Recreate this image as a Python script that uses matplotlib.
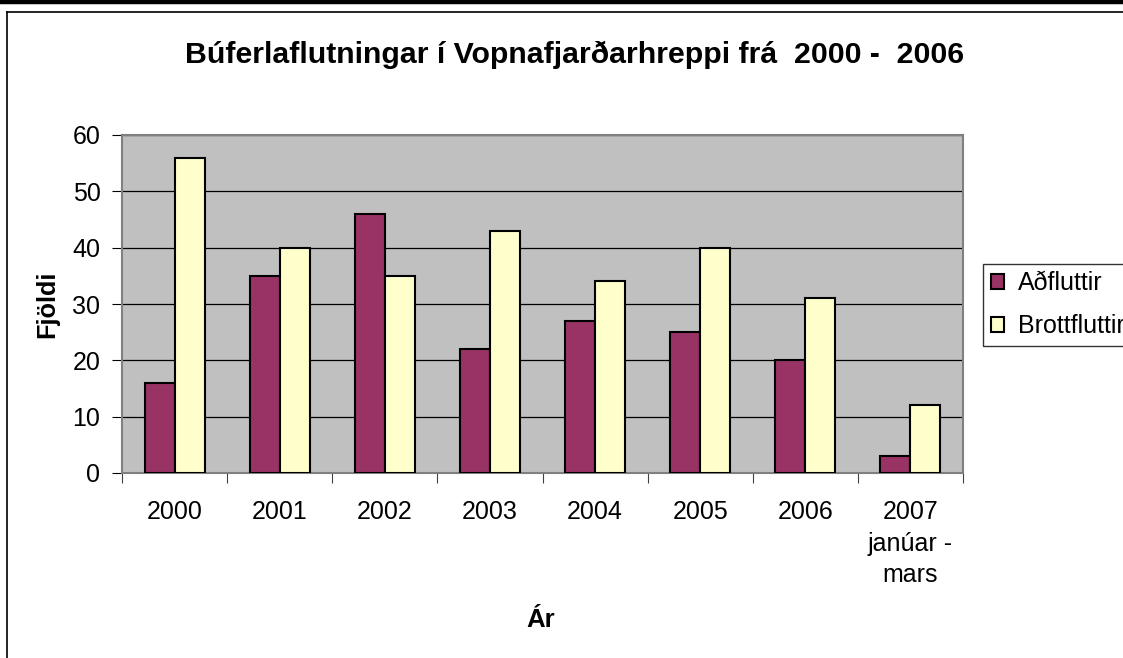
import numpy as np
import matplotlib
matplotlib.use("Agg")
import matplotlib.pyplot as plt
from matplotlib.lines import Line2D

plt.rcParams['font.family'] = ['Liberation Sans', 'DejaVu Sans']

# data
years = ["2000", "2001", "2002", "2003", "2004", "2005", "2006", "2007\njanúar -\nmars"]
adfluttir = [16, 35, 46, 22, 27, 25, 20, 3]
brottfluttir = [56, 40, 35, 43, 34, 40, 31, 12]

W, H = 1123, 658
fig = plt.figure(figsize=(W/100, H/100), dpi=100)
fig.patch.set_facecolor("white")

# plot area
ax = fig.add_axes([122/W, 1-473/H, (963-122)/W, (473-135)/H])
ax.set_facecolor("#C0C0C0")

x = np.arange(len(years))
bw = 2/3.5/2
ax.bar(x - bw/2, adfluttir, bw, color="#993366", edgecolor="black", linewidth=1.5,
       label="Aðfluttir", zorder=3)
ax.bar(x + bw/2, brottfluttir, bw, color="#FFFFCC", edgecolor="black", linewidth=1.5,
       label="Brottfluttir", zorder=3)

ax.set_xlim(-0.5, len(years)-0.5)
ax.set_ylim(0, 60)
ax.set_yticks(range(0, 61, 10))
ax.yaxis.grid(True, color="black", linewidth=0.9, zorder=1)
ax.set_axisbelow(True)

# category labels between the boundary ticks
ax.set_xticks(np.arange(-0.5, len(years), 1))
ax.set_xticklabels([])
ax.set_xticks(x, minor=True)
ax.set_xticklabels(years, minor=True, fontsize=18, linespacing=1.4)
ax.tick_params(axis="x", which="minor", length=0, pad=19.5)
ax.tick_params(axis="x", which="major", length=7, color="#404040", direction="out")
ax.tick_params(axis="y", length=7, color="black", labelsize=18, pad=8.5)

for s in ["left", "bottom", "top", "right"]:
    ax.spines[s].set_color("#808080")
    ax.spines[s].set_linewidth(1.5)

fig.text(575/W, 1-55/H, "Búferlaflutningar í Vopnafjarðarhreppi frá  2000 -  2006",
         ha="center", va="center", fontsize=21.8, fontweight="bold")
fig.text(47/W, 1-304/H, "Fjöldi", ha="center", va="center", rotation=90,
         fontsize=18.2, fontweight="bold")
fig.text(541/W, 1-620/H, "Ár", ha="center", va="center", fontsize=18.5, fontweight="bold")

leg = fig.legend(loc="upper left", bbox_to_anchor=(983/W, 1-264/H), fontsize=18,
                 frameon=True, fancybox=False, edgecolor="black", handlelength=0.55,
                 handleheight=0.55, handletextpad=0.55, borderpad=0.3, labelspacing=0.75,
                 borderaxespad=0)
leg.get_frame().set_linewidth(1.0)

# outer frame of the sheet
fig.add_artist(Line2D([0, 1], [1-1.5/H, 1-1.5/H], color="black", linewidth=3.2))
fig.add_artist(Line2D([7/W, 1], [1-12/H, 1-12/H], color="black", linewidth=1.2))
fig.add_artist(Line2D([7/W, 7/W], [1-12/H, 0], color="black", linewidth=1.2))

fig.savefig("out.png", dpi=100)
